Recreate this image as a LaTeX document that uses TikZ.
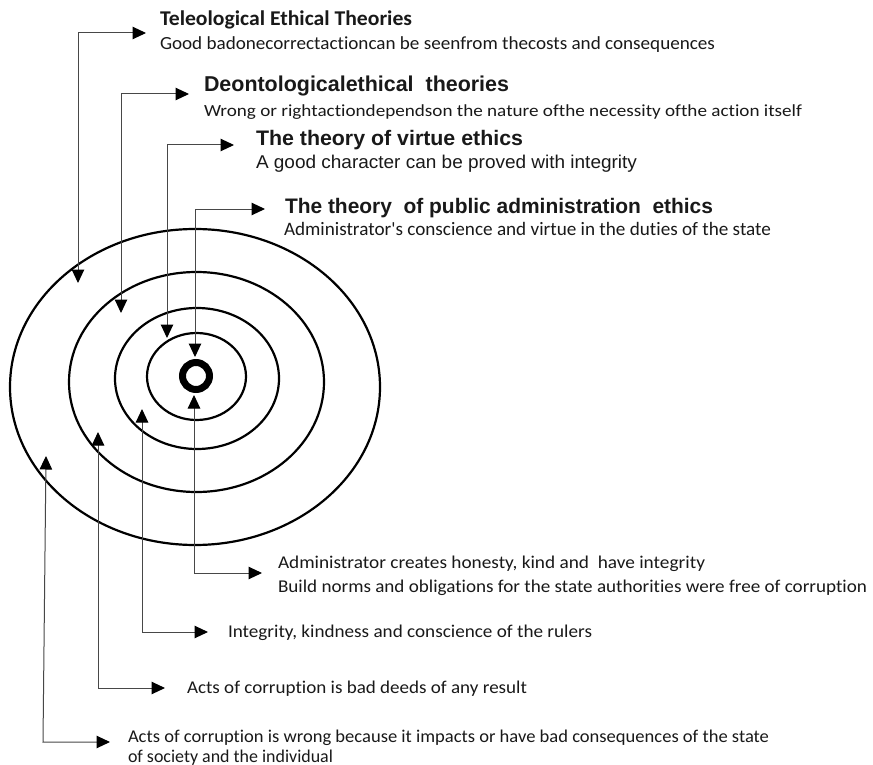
\documentclass[tikz,border=0pt]{standalone}
\usepackage{fontspec}
\setmainfont{Carlito}
\newfontfamily\calf{Carlito}[Ligatures=NoCommon]
\newfontfamily\arialf{Liberation Sans}[Ligatures=NoCommon]
\usetikzlibrary{arrows.meta,shapes.geometric}
\newcommand{\fitw}[2]{\resizebox{#1pt}{\height}{#2}}
\begin{document}
\begin{tikzpicture}[x=1pt,y=-1pt,
  ringe/.style={ellipse,draw,line width=2.2pt,inner sep=0pt,outer sep=0pt},
  conn/.style={draw=black!72,line width=1pt,
    {Triangle[length=13.5pt,width=12.5pt,color=black]}-{Triangle[length=13.5pt,width=12.5pt,color=black]}},
  txt/.style={anchor=base west,inner sep=0pt,outer sep=0pt,text=black!90},
  cal/.style={font=\calf\fontsize{#1}{#1}\selectfont},
  calb/.style={font=\calf\fontsize{#1}{#1}\selectfont\bfseries},
  ari/.style={font=\arialf\fontsize{#1}{#1}\selectfont},
  arib/.style={font=\arialf\fontsize{#1}{#1}\selectfont\bfseries},
]
\useasboundingbox (0,0) rectangle (873,765);
\fill[white] (0,0) rectangle (873,765);

% concentric ellipses
\node[ringe,minimum width=370pt,minimum height=316pt] (e4) at (195,387) {};
\node[ringe,minimum width=255pt,minimum height=220pt] (e3) at (196.5,382) {};
\node[ringe,minimum width=164pt,minimum height=141pt] (e2) at (197,378.5) {};
\node[ringe,minimum width=99pt,minimum height=87pt] (e1) at (196.5,376.5) {};
\node[circle,draw,line width=7pt,minimum size=27pt,inner sep=0pt] (core) at (196,376) {};

% top texts
\node[txt,calb=21] (t1) at (160,26) {\fitw{252}{Teleological Ethical Theories}};
\node[txt,cal=18.5] (t1s) at (160,50) {\fitw{555}{Good badonecorrectactioncan be seenfrom thecosts and consequences}};
\node[txt,arib=21.5] (t2) at (204,92) {\fitw{305}{Deontologicalethical\ \ theories}};
\node[txt,cal=17] (t2s) at (204,117) {\fitw{598}{Wrong or rightactiondependson the nature ofthe necessity ofthe action itself}};
\node[txt,arib=21] (t3) at (256,146) {\fitw{267}{The theory of virtue ethics}};
\node[txt,ari=18.5] (t3s) at (256,168) {\fitw{381}{A good character can be proved with integrity}};
\node[txt,arib=21] (t4) at (285,213) {\fitw{428}{The theory\ \ of public administration\ \ ethics}};
\node[txt,cal=19] (t4s) at (284,235) {\fitw{487}{Administrator's conscience and virtue in the duties of the state}};

% bottom texts
\node[txt,cal=18] (b1a) at (278,568) {\fitw{427}{Administrator creates honesty, kind and\ \ have integrity}};
\node[txt,cal=18] (b1b) at (278,592) {\fitw{589}{Build norms and obligations for the state authorities were free of corruption}};
\node[txt,cal=18] (b2) at (228,637) {\fitw{364}{Integrity, kindness and conscience of the rulers}};
\node[txt,cal=18] (b3) at (187,693) {\fitw{340}{Acts of corruption is bad deeds of any result}};
\node[txt,cal=18] (b4a) at (128,742) {\fitw{641}{Acts of corruption is wrong because it impacts or have bad consequences of the state}};
\node[txt,cal=18] (b4b) at (128,762) {\fitw{205}{of society and the individual}};

% connector end points
\coordinate (u1) at (78,283);  \coordinate (v1) at (146,33);
\coordinate (u2) at (121,313); \coordinate (v2) at (189,94);
\coordinate (u3) at (167,338); \coordinate (v3) at (234,145);
\coordinate (u4) at (195,357); \coordinate (v4) at (265,209);
\coordinate (d1) at (194,395); \coordinate (w1) at (262,573);
\coordinate (d2) at (142,409); \coordinate (w2) at (208,632);
\coordinate (d3) at (98,432);  \coordinate (w3) at (165,688);
\coordinate (d4) at (46,456);  \coordinate (k4) at (43,742); \coordinate (w4) at (110,742);

\draw[conn] (u1) |- (v1);
\draw[conn] (u2) |- (v2);
\draw[conn] (u3) |- (v3);
\draw[conn] (u4) |- (v4);
\draw[conn] (d1) |- (w1);
\draw[conn] (d2) |- (w2);
\draw[conn] (d3) |- (w3);
\draw[conn] (d4) -- (k4) -- (w4);
\end{tikzpicture}
\end{document}
